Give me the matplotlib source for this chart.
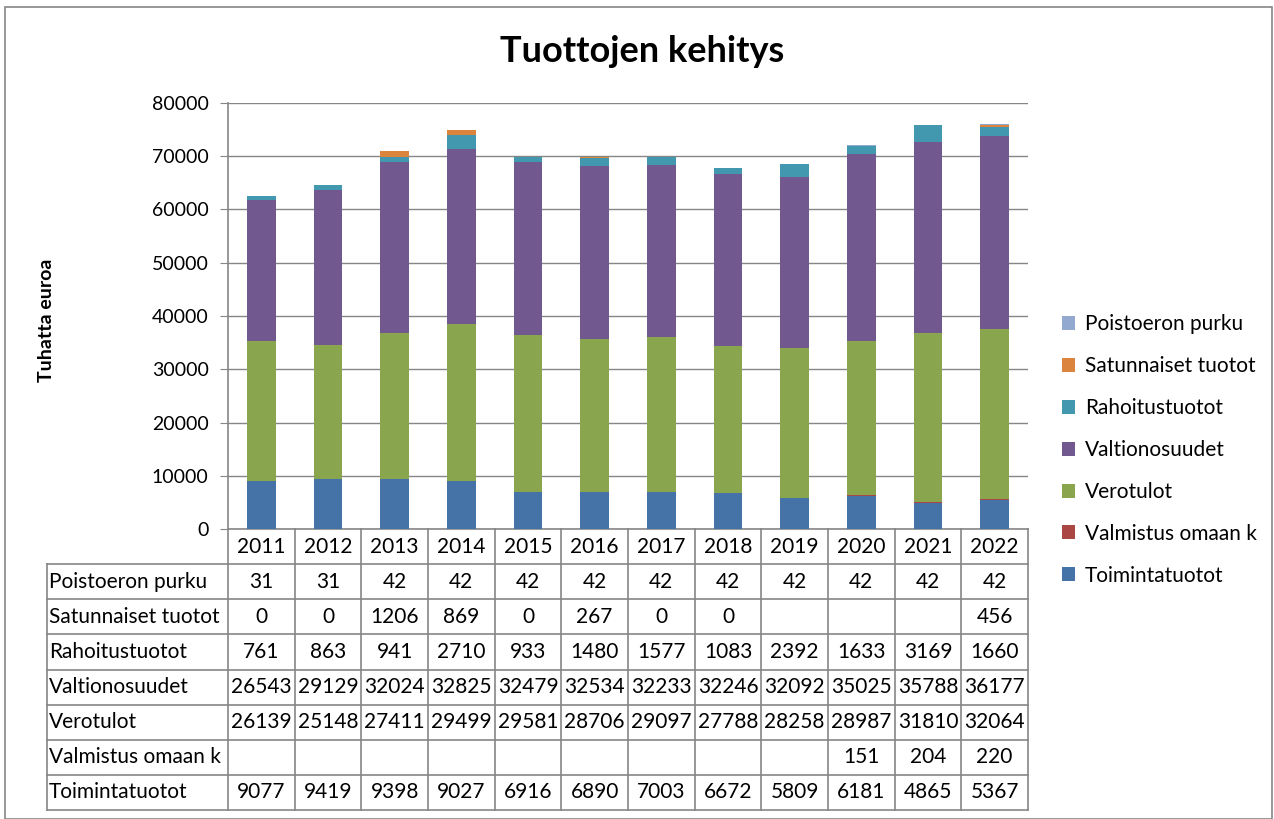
import matplotlib.pyplot as plt
import matplotlib.patches as mpatches
import numpy as np

plt.rcParams['font.family'] = ['Lato', 'DejaVu Sans']

# data (tuhatta euroa)
years = ['2011', '2012', '2013', '2014', '2015', '2016', '2017', '2018', '2019', '2020', '2021', '2022']
toimintatuotot = [9077, 9419, 9398, 9027, 6916, 6890, 7003, 6672, 5809, 6181, 4865, 5367]
valmistus = [None, None, None, None, None, None, None, None, None, 151, 204, 220]
verotulot = [26139, 25148, 27411, 29499, 29581, 28706, 29097, 27788, 28258, 28987, 31810, 32064]
valtionosuudet = [26543, 29129, 32024, 32825, 32479, 32534, 32233, 32246, 32092, 35025, 35788, 36177]
rahoitustuotot = [761, 863, 941, 2710, 933, 1480, 1577, 1083, 2392, 1633, 3169, 1660]
satunnaiset = [0, 0, 1206, 869, 0, 267, 0, 0, None, None, None, 456]
poistoeron = [31, 31, 42, 42, 42, 42, 42, 42, 42, 42, 42, 42]

series = [
    ('Toimintatuotot', toimintatuotot, '#4572A7'),
    ('Valmistus omaan k', valmistus, '#AA4643'),
    ('Verotulot', verotulot, '#89A54E'),
    ('Valtionosuudet', valtionosuudet, '#71588F'),
    ('Rahoitustuotot', rahoitustuotot, '#4198AF'),
    ('Satunnaiset tuotot', satunnaiset, '#DB843D'),
    ('Poistoeron purku', poistoeron, '#93A9CF'),
]

W, H = 1274, 819
fig = plt.figure(figsize=(W / 100, H / 100), dpi=100)
grey = '#868686'

# outer frame
fig.patches.append(mpatches.Rectangle((5 / W, 0), (W - 7) / W, (H - 7) / H, transform=fig.transFigure,
                                      fill=False, edgecolor=grey, linewidth=1.2))

# bar chart
x0, x1, ytop, ybot = 228, 1028, 103, 529
ax = fig.add_axes([x0 / W, 1 - ybot / H, (x1 - x0) / W, (ybot - ytop) / H])
x = np.arange(len(years))
bottom = np.zeros(len(years))
for name, vals, col in series:
    v = np.array([0 if a is None else a for a in vals], dtype=float)
    ax.bar(x, v, bottom=bottom, width=0.43, color=col, label=name, zorder=3)
    bottom += v

ax.set_xlim(-0.5, len(years) - 0.5)
ax.set_ylim(0, 80000)
ax.set_yticks(range(0, 80001, 10000))
ax.tick_params(axis='y', labelsize=14, length=6, color=grey, pad=8)
ax.tick_params(axis='x', bottom=False, labelbottom=False)
ax.yaxis.grid(True, color=grey, linewidth=1, zorder=0)
for s in ['top', 'right']:
    ax.spines[s].set_visible(False)
ax.spines['left'].set_color(grey)
ax.spines['bottom'].set_color(grey)
ax.spines['left'].set_linewidth(1.2)
ax.spines['bottom'].set_linewidth(1.2)

fig.text(642 / W, 1 - 52 / H, 'Tuottojen kehitys', fontsize=26, fontweight='bold', ha='center', va='center')
fig.text(47 / W, 1 - 320 / H, 'Tuhatta euroa', fontsize=14, fontweight='bold', rotation=90,
         ha='center', va='center')

# data table below
tl, tb = 47, 810
lab_w = (x0 - tl) / ((x1 - x0) / len(years))
axt = fig.add_axes([tl / W, 1 - tb / H, (x1 - tl) / W, (tb - ybot) / H])
xl = -0.5 - lab_w
axt.set_xlim(xl, len(years) - 0.5)
axt.set_ylim(0, 8)
axt.axis('off')
lw = 1.2
for r in range(0, 8):
    axt.plot([xl, len(years) - 0.5], [r, r], color=grey, lw=lw, clip_on=False)
axt.plot([xl, xl], [0, 7], color=grey, lw=lw, clip_on=False)
for i in range(len(years) + 1):
    axt.plot([i - 0.5, i - 0.5], [0, 8], color=grey, lw=lw, clip_on=False)
for i, yr in enumerate(years):
    axt.text(i, 7.5, yr, ha='center', va='center', fontsize=15)
for r, (name, vals, col) in enumerate(reversed(series)):
    yc = 6.5 - r
    axt.text(xl + 0.03, yc, name, ha='left', va='center', fontsize=15)
    for i, v in enumerate(vals):
        if v is not None:
            axt.text(i, yc, str(v), ha='center', va='center', fontsize=15)

# legend
h, l = ax.get_legend_handles_labels()
fig.legend(h[::-1], l[::-1], loc='center left', bbox_to_anchor=(1043 / W, 1 - 450 / H), frameon=False,
           fontsize=15, handlelength=0.65, handleheight=0.65, handletextpad=0.45, labelspacing=1.05)

fig.savefig('out.png', dpi=100)
